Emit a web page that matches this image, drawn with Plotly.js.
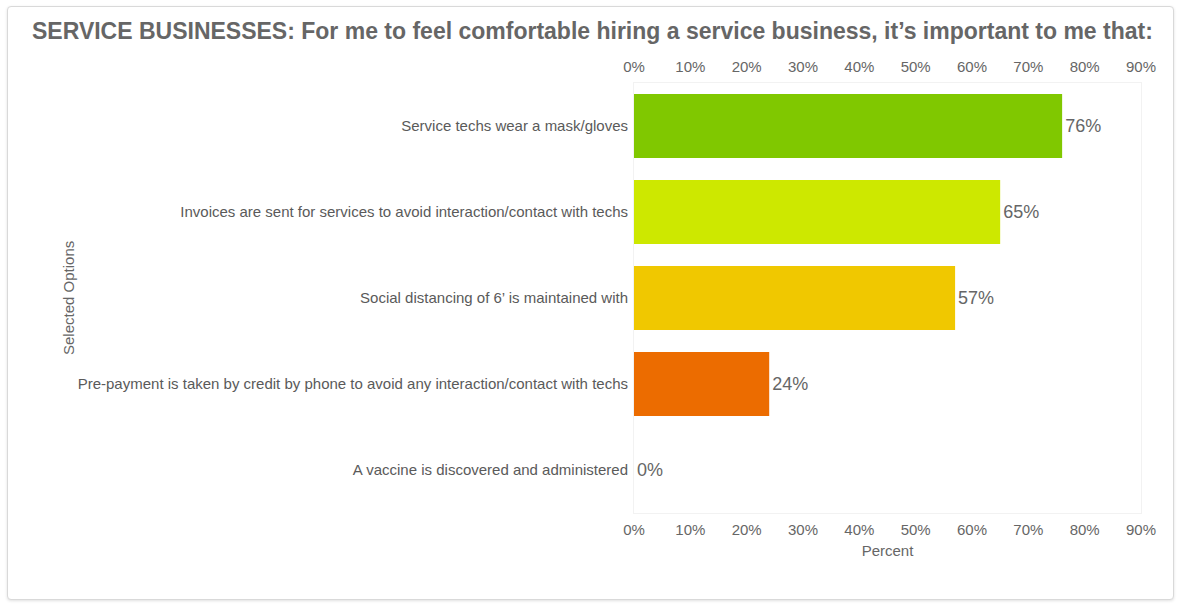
<!DOCTYPE html>
<html>
<head>
<meta charset="utf-8">
<script src="https://cdn.plot.ly/plotly-3.0.1.min.js"></script>
<style>
    html, body { margin: 0; padding: 0; background: #ffffff; }
    #card {
        position: absolute; left: 7px; top: 6px; width: 1165px; height: 592px;
        border: 1px solid #d9d9d9; border-radius: 4px; background: #ffffff;
        box-shadow: 0 1px 3px rgba(0,0,0,0.12);
    }
    #chart { position: absolute; left: 0; top: 0; width: 1182px; height: 607px; }
</style>
</head>
<body>
<div id="card"></div>
<div id="chart"></div>
<script>
// answer options, top to bottom
let options = [
    "Service techs wear a mask/gloves",
    "Invoices are sent for services to avoid interaction/contact with techs",
    "Social distancing of 6’ is maintained with",
    "Pre-payment is taken by credit by phone to avoid any interaction/contact with techs",
    "A vaccine is discovered and administered"
];
let percents = [76, 65, 57, 24, 0];
let bar_colors = ["#80c800", "#cde800", "#f0c800", "#ec6c00", "#e03c1e"];
let tick_values = [0, 10, 20, 30, 40, 50, 60, 70, 80, 90];
let tick_labels = ["0%", "10%", "20%", "30%", "40%", "50%", "60%", "70%", "80%", "90%"];

let font_name = "Liberation Sans, Arial, sans-serif";
let grey = "#666666";

let data = [{
    type: "bar",
    orientation: "h",
    x: percents,
    y: options,
    marker: {color: bar_colors},
    text: percents.map(v => v + "%"),
    textposition: "outside",
    cliponaxis: false,
    textfont: {family: font_name, size: 18, color: grey},
    hoverinfo: "skip"
}, {
    // invisible copy so the top axis gets drawn
    type: "scatter",
    mode: "markers",
    x: percents,
    y: options,
    xaxis: "x2",
    marker: {opacity: 0},
    hoverinfo: "skip"
}];

// shared x axis settings, drawn on top and bottom
let x_common = {
    range: [0, 90],
    tickvals: tick_values,
    ticktext: tick_labels,
    tickfont: {family: font_name, size: 15, color: grey},
    showgrid: false,
    zeroline: false,
    ticks: "",
    fixedrange: true
};

let layout = {
    width: 1182,
    height: 607,
    paper_bgcolor: "rgba(0,0,0,0)",
    plot_bgcolor: "rgba(0,0,0,0)",
    margin: {l: 634, r: 41, t: 83, b: 94},
    bargap: 0.255,
    showlegend: false,
    font: {family: font_name, color: grey},
    title: {
        text: "<b>SERVICE BUSINESSES: For me to feel comfortable hiring a service business, it’s important to me that:</b>",
        font: {family: font_name, size: 23, color: grey},
        xref: "container",
        x: 32 / 1182,
        xanchor: "left",
        yref: "container",
        y: 1 - 31 / 607,
        yanchor: "middle"
    },
    xaxis: Object.assign({}, x_common, {
        side: "bottom",
        showline: true,
        linecolor: "#f2f2f2",
        mirror: true,
        ticklabelstandoff: 3,
        title: {text: "Percent", font: {family: font_name, size: 15, color: grey}, standoff: 8}
    }),
    xaxis2: Object.assign({}, x_common, {
        side: "top",
        overlaying: "x",
        anchor: "y",
        matches: "x",
        ticklabelstandoff: 7
    }),
    yaxis: {
        autorange: "reversed",
        showgrid: false,
        zeroline: false,
        ticks: "",
        ticklabelstandoff: 2,
        tickfont: {family: font_name, size: 15, color: "#5a5a5a"},
        showline: true,
        linecolor: "#f2f2f2",
        mirror: true,
        automargin: false,
        fixedrange: true
    },
    annotations: [{
        text: "Selected Options",
        textangle: -90,
        xref: "paper",
        yref: "paper",
        x: (68 - 634) / 507,
        y: 0.5,
        xanchor: "center",
        yanchor: "middle",
        showarrow: false,
        font: {family: font_name, size: 15, color: grey}
    }]
};

let config = {
    displayModeBar: false,
    staticPlot: true
};

Plotly.newPlot(document.getElementById("chart"), data, layout, config);
</script>
</body>
</html>
